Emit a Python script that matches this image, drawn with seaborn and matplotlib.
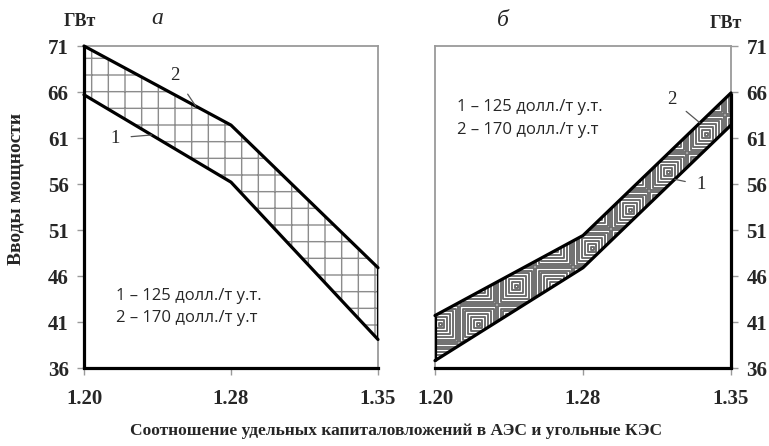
import numpy as np
import pandas as pd
import matplotlib
matplotlib.use("Agg")
import matplotlib.pyplot as plt
import seaborn as sns
from matplotlib.patches import Rectangle
from matplotlib.collections import PatchCollection

# ---- data ----
categories = ["1.20", "1.28", "1.35"]
yticks = [36, 41, 46, 51, 56, 61, 66, 71]
a_line1 = [65.7, 56.2, 39.1]   # 125 долл./т у.т.
a_line2 = [71.0, 62.4, 46.9]   # 170 долл./т у.т.
b_line1 = [36.8, 46.9, 62.4]
b_line2 = [41.7, 50.4, 65.9]
legend_lines = ["1 – 125 долл./т у.т.", "2 – 170 долл./т у.т"]
ylabel = "Вводы мощности"
xlabel = "Соотношение удельных капиталовложений в АЭС и угольные КЭС"
unit = "ГВт"

sns.set_theme(style="white")
plt.rcParams["font.family"] = ["Liberation Serif", "DejaVu Serif"]
plt.rcParams["hatch.linewidth"] = 1.0

W, H = 769, 446
fig = plt.figure(figsize=(W / 100, H / 100), dpi=100)
axA = fig.add_axes([84 / W, 1 - 368 / H, (378 - 84) / W, (368 - 46) / H])
axB = fig.add_axes([435 / W, 1 - 368 / H, (731 - 435) / W, (368 - 46) / H])

pos = np.arange(len(categories))
thick = 2.3
grey = "#9a9a9a"

def draw_pair(ax, l1, l2):
    df = pd.DataFrame({"x": np.concatenate([pos, pos]),
                       "y": np.concatenate([l1, l2]),
                       "s": ["1"] * len(pos) + ["2"] * len(pos)})
    sns.lineplot(data=df, x="x", y="y", units="s", estimator=None,
                 color="black", linewidth=thick, ax=ax, legend=False,
                 solid_joinstyle="miter", zorder=5, clip_on=False)

def base(ax, side):
    ax.set_xlim(pos[0], pos[-1])
    ax.set_ylim(yticks[0], yticks[-1])
    ax.set_xticks(pos)
    ax.set_xticklabels(categories)
    ax.set_yticks(yticks)
    for s in ["top", "left", "right"]:
        ax.spines[s].set_color(grey)
        ax.spines[s].set_linewidth(1.3)
        ax.spines[s].set_visible(True)
    ax.spines["bottom"].set_color("black")
    ax.spines["bottom"].set_linewidth(thick)
    ax.spines["bottom"].set_visible(True)
    ax.tick_params(axis="x", direction="out", length=5, width=1, color=grey,
                   pad=10, labelsize=15, bottom=True)
    ax.tick_params(axis="y", direction="out", length=5, width=1, color=grey,
                   labelsize=15, left=(side == "left"), right=(side == "right"),
                   labelleft=(side == "left"), labelright=(side == "right"), pad=6)
    for lab in ax.get_xticklabels() + ax.get_yticklabels():
        lab.set_fontweight("bold")
    ax.set_xlabel("")
    ax.set_ylabel("")

# ---- panel а ----
polyA = axA.fill_between(pos, a_line1, a_line2, facecolor="white",
                         edgecolor="#8c8c8c", hatch="+", linewidth=0, zorder=2)
draw_pair(axA, a_line1, a_line2)
base(axA, "left")
axA.vlines(pos[-1], a_line1[-1], a_line2[-1], color="black", lw=thick, zorder=6)
axA.vlines(pos[0], yticks[0], a_line2[0], color="black", lw=thick, zorder=6, clip_on=False)

# ---- panel б ----
polyB = axB.fill_between(pos, b_line1, b_line2, facecolor="white",
                         linewidth=0, zorder=2)
draw_pair(axB, b_line1, b_line2)
base(axB, "right")
axB.vlines(pos[0], b_line1[0], b_line2[0], color="black", lw=thick, zorder=6)
axB.vlines(pos[-1], yticks[0], b_line2[-1], color="black", lw=thick, zorder=6, clip_on=False)

# concentric-square texture for panel б (clipped to the band)
fig.canvas.draw()
bb = axB.get_window_extent()
pxx = bb.width / (pos[-1] - pos[0])
pxy = bb.height / (yticks[-1] - yticks[0])
tile = 38.0
x0px, y0px = 5.0, 44.0
patches = []
for i in range(-1, int(bb.width / tile) + 2):
    for j in range(-1, int(bb.height / tile) + 2):
        cx = (x0px + i * tile)
        cy = (y0px + j * tile)
        for h in np.arange(1.5, tile / 2 + 0.1, 2.8):
            patches.append(Rectangle(((cx - h) / pxx, yticks[0] + (cy - h) / pxy),
                                     2 * h / pxx, 2 * h / pxy))
pc = PatchCollection(patches, facecolor="none", edgecolor="#6a6a6a",
                     linewidth=1.35, zorder=3)
axB.add_collection(pc)
pc.set_clip_path(polyB.get_paths()[0], axB.transData)

# ---- annotations ----
sans = ["Open Sans", "DejaVu Sans"]
for ax, tx, ys in [(axA, 0.22, (43.8, 41.4)), (axB, 0.15, (64.4, 61.9))]:
    for txt, yy in zip(legend_lines, ys):
        ax.text(tx, yy, txt, fontsize=12, family=sans, va="center", ha="left", zorder=7)

def label(ax, text, txy, xe, line):
    ye = np.interp(xe, pos, line)
    ax.annotate(text, xy=(xe, ye), xytext=txy, fontsize=13.5,
                ha="center", va="center", zorder=7,
                arrowprops=dict(arrowstyle="-", color="#555", lw=0.9,
                                shrinkA=6, shrinkB=0))

label(axA, "2", (0.62, 67.8), 0.76, a_line2)
label(axA, "1", (0.21, 61.0), 0.46, a_line1)
label(axB, "2", (1.60, 65.2), 1.79, b_line2)
label(axB, "1", (1.80, 55.9), 1.62, b_line1)

# ---- texts ----
fig.text(80 / W, 1 - 21 / H, unit, fontsize=13, fontweight="bold", ha="center", va="center")
fig.text(726 / W, 1 - 24 / H, unit, fontsize=13, fontweight="bold", ha="center", va="center")
fig.text(157 / W, 1 - 18 / H, "а", fontsize=17, style="italic", ha="center", va="center")
fig.text(503 / W, 1 - 21 / H, "б", fontsize=17, style="italic", ha="center", va="center")
fig.text(16 / W, 1 - 189 / H, ylabel, fontsize=14, fontweight="bold",
         rotation=90, ha="center", va="center")
fig.text(396 / W, 1 - 431 / H, xlabel, fontsize=12.5, fontweight="bold",
         ha="center", va="center")

fig.savefig("out.png", dpi=100)
